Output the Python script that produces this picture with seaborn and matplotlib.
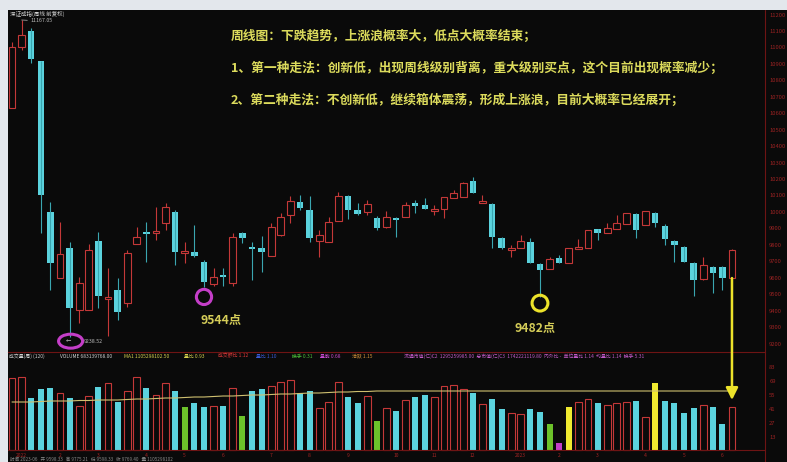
import numpy as np
import pandas as pd
import matplotlib
matplotlib.use("Agg")
import matplotlib.pyplot as plt
from matplotlib.patches import Rectangle, ConnectionPatch
from matplotlib.lines import Line2D
from matplotlib.path import Path
from matplotlib.transforms import offset_copy, Affine2D
import seaborn as sns

# 周K线（从图上读出，单位：点）
opens = [10632, 11003, 11100, 10918, 10000, 9598, 9781, 9404, 9404, 9823,
         9471, 9525, 9446, 9805, 9878, 9872, 9933, 10000, 9750, 9756,
         9696, 9562, 9617, 9568, 9872, 9787, 9781, 9732, 9860, 9981,
         10060, 10012, 9823, 9817, 9945, 10097, 10012, 10000, 9963, 9908,
         9963, 9969, 10054, 10042, 10006, 10018, 10085, 10091, 10188, 10054,
         10048, 9842, 9769, 9781, 9817, 9684, 9653, 9720, 9690, 9775,
         9781, 9896, 9872, 9896, 9927, 9988, 9921, 9994, 9915, 9823,
         9787, 9690, 9592, 9665, 9665, 9598]
highs = [11033, 11167.05, 11118, 10918, 10060, 9939, 9817, 9604, 9805, 9878,
         9659, 9598, 9769, 9908, 9939, 10030, 10054, 10012, 9817, 9921,
         9708, 9659, 9659, 9872, 9878, 9817, 9854, 9933, 9994, 10097,
         10103, 10097, 9890, 9969, 10121, 10103, 10054, 10073, 9975, 10006,
         9969, 10060, 10073, 10085, 10042, 10091, 10133, 10182, 10212, 10103,
         10054, 9848, 9799, 9860, 9842, 9690, 9726, 9738, 9781, 9836,
         9890, 9896, 9933, 9981, 9994, 9994, 10006, 10000, 9927, 9829,
         9793, 9696, 9726, 9671, 9671, 9775]
lows = [10632, 10985, 10906, 9872, 9525, 9598, 9238.52, 9325, 9404, 9416,
        9245, 9343, 9422, 9805, 9696, 9829, 9890, 9677, 9690, 9726,
        9544, 9552, 9548, 9550, 9811, 9586, 9635, 9732, 9854, 9933,
        10012, 9817, 9726, 9817, 9945, 9957, 9981, 9981, 9890, 9902,
        9848, 9969, 9994, 10018, 9981, 9963, 10085, 10091, 10115, 10054,
        9781, 9775, 9726, 9781, 9690, 9482, 9653, 9690, 9690, 9775,
        9781, 9829, 9872, 9896, 9927, 9842, 9921, 9908, 9799, 9696,
        9696, 9490, 9586, 9507, 9525, 9598]
closes = [11003, 11076, 10930, 10103, 9690, 9744, 9416, 9568, 9769, 9489,
          9483, 9392, 9750, 9848, 9866, 9884, 10030, 9756, 9763, 9732,
          9574, 9604, 9604, 9848, 9842, 9775, 9756, 9908, 9969, 10067,
          10024, 9842, 9860, 9939, 10097, 10012, 9988, 10048, 9902, 9969,
          9951, 10042, 10036, 10018, 10018, 10091, 10115, 10176, 10115, 10067,
          9848, 9781, 9781, 9823, 9690, 9647, 9714, 9690, 9781, 9787,
          9890, 9872, 9902, 9933, 9994, 9890, 10006, 9933, 9836, 9799,
          9696, 9586, 9677, 9629, 9598, 9769]

# 成交量（相对高度）及均量线
volumes = [72, 73, 52, 61, 62, 57, 52, 44, 54, 63,
           67, 48, 59, 73, 62, 55, 67, 59, 43, 47,
           43, 44, 44, 62, 34, 59, 61, 64, 68, 70,
           57, 59, 42, 48, 68, 53, 47, 54, 29, 42,
           39, 50, 53, 55, 53, 64, 65, 61, 57, 46,
           51, 41, 37, 36, 41, 38, 26, 7, 43, 48,
           51, 47, 45, 47, 48, 49, 33, 67, 49, 47,
           37, 42, 45, 43, 26, 43]
vol_ma = [48, 48, 48, 48.5, 49, 49, 49, 49.5, 49.5, 50,
          50, 50, 50.5, 51, 51, 51.5, 52, 52, 52.5, 53,
          53, 53.5, 54, 54, 54.5, 55, 55, 55.5, 56, 56,
          56.5, 57, 57, 57.5, 58, 58, 58.5, 58.5, 59, 59,
          59, 59, 59, 59, 59, 59, 59, 59, 59, 59,
          59, 59, 59, 59, 59, 59, 59, 59, 59, 59,
          59, 59, 59, 59, 59, 59, 59, 59, 59, 59,
          59, 59, 59, 59, 59, 59]
# 特殊标色的量柱
special_bars = {18: "green", 24: "green", 38: "green", 56: "green",
                57: "magenta", 58: "yellow", 67: "yellow"}

price_ticks = list(range(9200, 11201, 100))
vol_ticks = [13, 27, 41, 55, 69, 83]
month_pos = [1, 5, 9, 14, 18, 22, 27, 31, 35, 40, 44, 48, 53, 57, 61, 66, 70, 74]
month_lab = ["2022", "2", "3", "4", "5", "6", "7", "8", "9", "10", "11", "12",
             "2023", "2", "3", "4", "5", "6"]

notes = ["周线图：下跌趋势，上涨浪概率大，低点大概率结束；",
         "1、第一种走法：创新低，出现周线级别背离，重大级别买点，这个目前出现概率减少；",
         "2、第二种走法：不创新低，继续箱体震荡，形成上涨浪，目前大概率已经展开；"]

BG = "#0a0a0a"
CYAN = "#5bd3de"
TEAL = "#3aa6b0"
RED = "#c43838"
DARKRED = "#6e1414"
MAGENTA = "#c43ec8"
YELLOW = "#ece22a"
NOTE_C = "#dcdb5c"
LABEL_C = "#d4cc58"

sns.set_theme(style="white")
plt.rcParams["font.family"] = ["Noto Sans CJK SC", "DejaVu Sans"]
plt.rcParams["axes.unicode_minus"] = False

W, H = 787, 462
fig = plt.figure(figsize=(W / 100, H / 100), dpi=100, facecolor="#e3e7ec")


def fig_box(x0, y0, x1, y1):
    return [x0 / W, 1 - y1 / H, (x1 - x0) / W, (y1 - y0) / H]


fig.add_artist(Rectangle((8 / W, 0), 1 - 8 / W, 1 - 10 / H, transform=fig.transFigure,
                         facecolor=BG, edgecolor="none", zorder=-1))

ax = fig.add_axes(fig_box(8, 10, 765, 352))
axv = fig.add_axes(fig_box(8, 365, 765, 452))
for a in (ax, axv):
    a.set_facecolor("none")
    for s in a.spines.values():
        s.set_visible(False)

# K线
week = np.arange(len(opens))
o, c = np.array(opens, float), np.array(closes, float)
h, l = np.array(highs, float), np.array(lows, float)
up = c >= o
top, bot = np.maximum(o, c), np.minimum(o, c)
body = np.maximum(top - bot, 7)
ax.vlines(week[up], top[up], h[up], color=RED, lw=0.8)
ax.vlines(week[up], l[up], bot[up], color=RED, lw=0.8)
ax.vlines(week[~up], l[~up], h[~up], color=TEAL, lw=0.8)
ax.bar(week[~up], body[~up], bottom=bot[~up], width=0.66, color=CYAN, linewidth=0)
ax.bar(week[up], body[up], bottom=bot[up], width=0.7, facecolor=BG, edgecolor=RED, linewidth=0.8)

ax.set_xlim(-0.417, 78.44)
ax.set_ylim(9148.4, 11227.8)
ax.set_xticks([])
ax.yaxis.tick_right()
ax.set_yticks(price_ticks)
ax.set_yticklabels([str(v) for v in price_ticks])
ax.tick_params(axis="y", colors="#9a2222", labelsize=4.2, length=0, pad=3)
ax.spines["bottom"].set_visible(True)
ax.spines["bottom"].set_color(DARKRED)
ax.spines["bottom"].set_linewidth(0.8)

# 低点标注
ell = Path.unit_circle().transformed(Affine2D().scale(1.0, 0.58))
ax.scatter([6], [lows[6]], marker=ell, s=300, facecolors="none", edgecolors=MAGENTA,
           linewidths=2.2, clip_on=False, zorder=5,
           transform=offset_copy(ax.transData, fig=fig, x=1, y=-4, units="dots"))
ax.annotate("←", xy=(6, lows[6]), xytext=(-1, -4), textcoords="offset pixels",
            fontsize=3.8, color="#bbbbbb", ha="center", va="center", annotation_clip=False)
ax.annotate("9238.52", xy=(6, lows[6]), xytext=(14, -4), textcoords="offset pixels",
            fontsize=3.8, color="#bbbbbb", ha="left", va="center", annotation_clip=False)
ax.scatter([20], [lows[20]], marker="o", s=120, facecolors="none", edgecolors=MAGENTA,
           linewidths=2.2, zorder=5,
           transform=offset_copy(ax.transData, fig=fig, x=0, y=-10, units="dots"))
ax.annotate("9544点", xy=(20, lows[20]), xytext=(17, -33), textcoords="offset pixels",
            fontsize=8.8, fontweight="bold", color=LABEL_C, ha="center", va="center")
ax.scatter([55], [lows[55]], marker="o", s=130, facecolors="none", edgecolors=YELLOW,
           linewidths=2.2, zorder=5,
           transform=offset_copy(ax.transData, fig=fig, x=0, y=-6, units="dots"))
ax.annotate("9482点", xy=(55, lows[55]), xytext=(-5, -30), textcoords="offset pixels",
            fontsize=8.8, fontweight="bold", color=LABEL_C, ha="center", va="center")
ax.annotate("11167.05", xy=(1, highs[1]), xytext=(9, -1), textcoords="offset pixels",
            fontsize=3.8, color="#bbbbbb", ha="left", va="center",
            arrowprops=dict(arrowstyle="-", color="#bbbbbb", lw=0.5, shrinkA=0, shrinkB=0))

# 成交量
kinds = [special_bars.get(i, "up" if up[i] else "down") for i in week]
vol_df = pd.DataFrame({"week": week, "volume": volumes, "kind": kinds})
vol_palette = {"down": CYAN, "green": "#6cc22a", "yellow": "#f0ea30", "magenta": MAGENTA}
solid = vol_df[vol_df["kind"] != "up"]
hollow = vol_df[vol_df["kind"] == "up"]
sns.barplot(data=solid, x="week", y="volume", hue="kind", palette=vol_palette,
            native_scale=True, dodge=False, width=0.62, saturation=1, errorbar=None,
            linewidth=0, legend=False, ax=axv)
sns.barplot(data=hollow, x="week", y="volume", native_scale=True, width=0.7,
            fill=False, color=RED, errorbar=None, linewidth=0.8, ax=axv)
sns.lineplot(x=week, y=vol_ma, color="#cfc070", linewidth=0.8, ax=axv)
axv.axhline(0, color=DARKRED, lw=0.8)
axv.set_xlim(-0.417, 78.44)
axv.set_ylim(-2, 85)
axv.set_xlabel("")
axv.set_ylabel("")
axv.yaxis.tick_right()
axv.set_yticks(vol_ticks)
axv.set_yticklabels([str(v) for v in vol_ticks])
axv.set_xticks(month_pos)
axv.set_xticklabels(month_lab)
axv.tick_params(axis="y", colors="#9a2222", labelsize=4.2, length=0, pad=3)
axv.tick_params(axis="x", colors="#a02424", labelsize=3.6, length=0, pad=0.5)

# 箭头
fig.add_artist(ConnectionPatch(xyA=(75, opens[75]), coordsA=ax.transData,
                               xyB=(75, 50), coordsB=axv.transData,
                               arrowstyle="-|>", mutation_scale=18, color=YELLOW,
                               lw=1.8, zorder=6))
fig.add_artist(Line2D([765 / W, 765 / W], [0, 1 - 10 / H], transform=fig.transFigure,
                      color=DARKRED, lw=0.8))

# 文字
for k, line in enumerate(notes):
    fig.text(231 / W, 1 - (36 + 32 * k) / H, line, color=NOTE_C, fontsize=9.2,
             fontweight="bold", ha="left", va="center")

fig.text(10 / W, 1 - 14 / H, "深证成指(周线 前复权)", color="#cfcfcf", fontsize=4,
         ha="left", va="center")

ind_items = [(9, "成交量(周) (120)", "#cfcfcf"), (60, "VOLUME 683139768.00", "#cfcfcf"),
             (124, "MA1 1105298102.50", "#d6d24e"), (184, "量比 0.93", "#d6d24e"),
             (218, "成交额比 1.12", "#e03a3a"), (256, "量比 1.10", "#3a5ad8"),
             (292, "换手 0.31", "#4cc23a"), (320, "量能 0.68", "#c84ad0"),
             (352, "活跃 1.15", "#d8953a"),
             (404, "流通市值(亿)C2  1295259985.00  总市值(亿)C3  1742221119.80  内外比 -  "
                   "单位量比 1.14  均量比 1.14  换手 5.31", "#c25ac8")]
for px, txt, col in ind_items:
    fig.text(px / W, 1 - 356 / H, txt, color=col, fontsize=3.5, ha="left", va="center")

fig.text(10 / W, 1 - 459 / H, "时间 2023-06   开 9598.33   高 9775.21   低 9598.33   收 9769.40   量 1105298102",
         color="#8a8a8a", fontsize=3.3, ha="left", va="center")

fig.savefig("out.png", dpi=100, facecolor=fig.get_facecolor())
